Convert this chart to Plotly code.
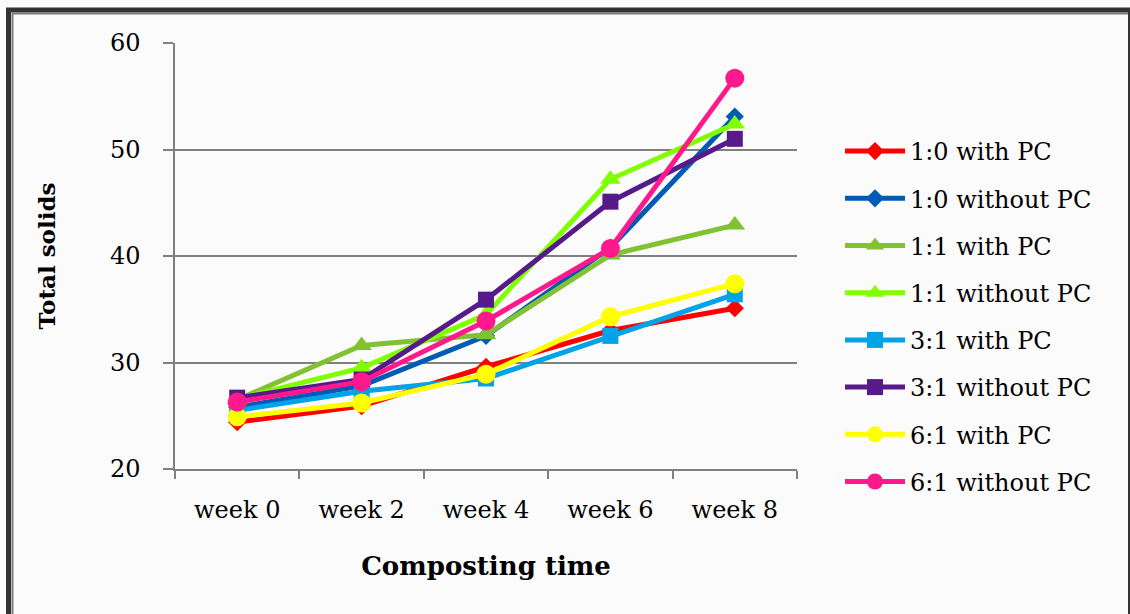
import plotly.graph_objects as go

# Composting time (weeks) and total solids for each mix ratio
weeks = ["week 0", "week 2", "week 4", "week 6", "week 8"]

ts_10_with_pc = [24.4, 25.9, 29.6, 33.0, 35.1]
ts_10_without_pc = [25.8, 27.8, 32.5, 40.8, 53.1]
ts_11_with_pc = [26.5, 31.6, 32.6, 40.1, 42.9]
ts_11_without_pc = [26.6, 29.5, 34.5, 47.2, 52.4]
ts_31_with_pc = [25.5, 27.3, 28.5, 32.5, 36.4]
ts_31_without_pc = [26.7, 28.4, 35.9, 45.1, 51.0]
ts_61_with_pc = [24.9, 26.2, 28.9, 34.3, 37.4]
ts_61_without_pc = [26.3, 28.2, 33.9, 40.7, 56.7]

series_names = [
    "1:0 with PC", "1:0 without PC", "1:1 with PC", "1:1 without PC",
    "3:1 with PC", "3:1 without PC", "6:1 with PC", "6:1 without PC",
]
series_values = [
    ts_10_with_pc, ts_10_without_pc, ts_11_with_pc, ts_11_without_pc,
    ts_31_with_pc, ts_31_without_pc, ts_61_with_pc, ts_61_without_pc,
]
colors = ["#FF0000", "#005BB5", "#80C232", "#80FF00",
          "#00A2E8", "#561A8B", "#FFFF00", "#FF198C"]
symbols = ["diamond", "diamond", "triangle-up", "triangle-up",
           "square", "square", "circle", "circle"]
sizes = [14, 14, 18, 18, 16, 16, 19, 19]

W, H = 1130, 614
ML, MR, MT, MB = 175, 333, 43, 145
PW, PH = W - ML - MR, H - MT - MB


def px(x):
    return (x - ML) / PW


def py(y):
    return (H - MB - y) / PH


SERIF = "DejaVu Serif, Liberation Serif, serif"

fig = go.Figure()
for i, (name, vals) in enumerate(zip(series_names, series_values)):
    fig.add_trace(go.Scatter(
        x=weeks, y=vals, name=name, mode="lines+markers",
        legendgroup=f"g{i}",
        line=dict(color=colors[i], width=5),
        marker=dict(color=colors[i], symbol=symbols[i], size=sizes[i],
                    line=dict(width=0)),
    ))

# outer frame around the whole figure
frame = [
    dict(x0=px(8.5), x1=px(8.5), y0=py(8), y1=py(640), w=5, c="#333333"),
    dict(x0=px(6), x1=px(1131), y0=py(10), y1=py(10), w=5, c="#333333"),
    dict(x0=px(12.5), x1=px(12.5), y0=py(13), y1=py(640), w=2, c="#7a7a7a"),
    dict(x0=px(12), x1=px(1128), y0=py(13.5), y1=py(13.5), w=2, c="#7a7a7a"),
    dict(x0=px(1129), x1=px(1129), y0=py(8), y1=py(640), w=2, c="#333333"),
]
shapes = [dict(type="line", xref="paper", yref="paper", x0=f["x0"], x1=f["x1"],
               y0=f["y0"], y1=f["y1"], line=dict(color=f["c"], width=f["w"]),
               layer="above") for f in frame]

fig.update_layout(
    width=W, height=H,
    margin=dict(l=ML, r=MR, t=MT, b=MB, pad=0),
    paper_bgcolor="#FBFBFB", plot_bgcolor="#FBFBFB",
    font=dict(family=SERIF, color="#000000", size=24),
    showlegend=True,
    legend=dict(
        x=px(840), y=py(129), xanchor="left", yanchor="top",
        font=dict(family=SERIF, size=24, color="#000000"),
        tracegroupgap=13, itemwidth=60, bgcolor="rgba(0,0,0,0)",
    ),
    xaxis=dict(
        type="category", range=[-0.5, 4.5],
        showline=True, linecolor="#808080", linewidth=2,
        ticks="outside", tickson="boundaries", ticklen=8, tickcolor="#808080",
        tickwidth=1.5, showgrid=False, zeroline=False,
        ticklabelstandoff=18,
        tickfont=dict(family=SERIF, size=24),
        title=dict(text="<b>Composting time</b>", standoff=34,
                   font=dict(family=SERIF, size=26)),
    ),
    yaxis=dict(
        range=[20, 60], dtick=10, tick0=20,
        showline=True, linecolor="#808080", linewidth=1.5,
        ticks="outside", ticklen=10, tickcolor="#808080", tickwidth=1.5,
        showgrid=True, gridcolor="#808080", gridwidth=1.5, zeroline=False,
        ticklabelstandoff=18,
        tickfont=dict(family=SERIF, size=24),
        title=dict(text="<b>Total solids</b>", standoff=48,
                   font=dict(family=SERIF, size=23)),
    ),
    shapes=shapes,
)

fig.write_html("out.html")
